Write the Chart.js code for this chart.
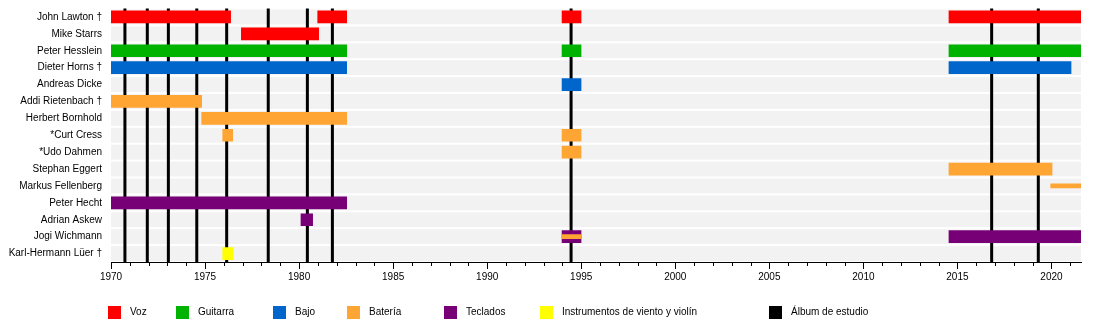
<!DOCTYPE html>
<html><head><meta charset="utf-8">
<script src="https://cdn.jsdelivr.net/npm/chart.js@4.4.0/dist/chart.umd.min.js"></script>
<style>
html,body{margin:0;padding:0;background:#fff;}
#wrap{position:relative;width:1100px;height:322px;overflow:hidden;}
#c{position:absolute;left:0;top:0;}
.sq{position:absolute;top:306px;width:13px;height:13px;}
.lb{position:absolute;top:306px;height:13px;line-height:13px;font:10px "Liberation Sans",Arial,sans-serif;color:#000;white-space:nowrap;}
</style>
</head><body>
<div id="wrap"><canvas id="c" width="1100" height="322"></canvas><div id="legend"></div></div>
<script>
const END = 2021.57;
const members = ['John Lawton †','Mike Starrs','Peter Hesslein','Dieter Horns †','Andreas Dicke','Addi Rietenbach †','Herbert Bornhold','*Curt Cress','*Udo Dahmen','Stephan Eggert','Markus Fellenberg','Peter Hecht','Adrian Askew','Jogi Wichmann','Karl-Hermann Lüer †'];
const voz = [['John Lawton †',1970,1976.36],['John Lawton †',1980.99,1982.53],['John Lawton †',1993.98,1994.99],['John Lawton †',2014.55,END],['Mike Starrs',1976.93,1981.04]];
const guitarra = [['Peter Hesslein',1970,1982.53],['Peter Hesslein',1993.98,1994.99],['Peter Hesslein',2014.55,END]];
const bajo = [['Dieter Horns †',1970,1982.53],['Dieter Horns †',2014.55,2021.04],['Andreas Dicke',1993.98,1994.99]];
const bateria = [['Addi Rietenbach †',1970,1974.82],['Herbert Bornhold',1974.82,1982.53],['*Curt Cress',1975.94,1976.47],['*Curt Cress',1993.98,1994.99],['*Udo Dahmen',1993.98,1994.99],['Stephan Eggert',2014.55,2020.03]];
const bateriaSecundaria = [['Markus Fellenberg',2019.96,END],['Jogi Wichmann',1993.98,1994.99]];
const teclados = [['Peter Hecht',1970,1982.53],['Adrian Askew',1980.1,1980.72],['Jogi Wichmann',1993.98,1994.99],['Jogi Wichmann',2014.55,END]];
const viento = [['Karl-Hermann Lüer †',1975.94,1976.5]];
const albums = [1970.74,1971.93,1973.05,1974.56,1976.15,1978.36,1980.44,1981.77,1994.46,2016.82,2019.3];
const legendLabels = ['Voz','Guitarra','Bajo','Batería','Teclados','Instrumentos de viento y violín','Álbum de estudio'];
const legendColors = ['#ff0000','#00b300','#0066cc','#ffa533','#770077','#ffff00','#000000'];
const legendX = [108,176,273,347,444,540,769];

const toPts = segs => segs.map(s => ({y: s[0], x: [s[1], s[2]]}));
function ds(label, segs, color, thick, order){
  return {label, data: toPts(segs), backgroundColor: color, borderWidth: 0, barThickness: thick, grouped: false, order};
}

const bgPlugin = {
  id: 'bands',
  beforeDatasetsDraw(chart){
    const {ctx, chartArea: a, scales: {x, y}} = chart;
    const h = y.getPixelForValue(1) - y.getPixelForValue(0);
    ctx.save();
    ctx.fillStyle = '#f2f2f2';
    members.forEach((m, i) => {
      const cy = y.getPixelForValue(i);
      ctx.fillRect(a.left, cy - h/2 + 1, a.right - a.left, h - 2);
    });
    ctx.fillStyle = '#000';
    albums.forEach(v => {
      const px = x.getPixelForValue(v);
      ctx.fillRect(px - 1.5, a.top, 3, a.bottom - a.top);
    });
    ctx.restore();
  },
  afterDraw(chart){
    const {ctx, chartArea: a, scales: {x}} = chart;
    ctx.save();
    ctx.strokeStyle = '#000';
    ctx.lineWidth = 1;
    for (let yr = 1971; yr <= 2021; yr++) {
      if (yr % 5 === 0) continue;
      const px = Math.round(x.getPixelForValue(yr)) + 0.5;
      ctx.beginPath();
      ctx.moveTo(px, a.bottom);
      ctx.lineTo(px, a.bottom + 4);
      ctx.stroke();
    }
    ctx.restore();
  }
};

Chart.defaults.font.family = '"Liberation Sans", Arial, sans-serif';
Chart.defaults.color = '#000';

new Chart(document.getElementById('c'), {
  type: 'bar',
  data: {
    labels: members,
    datasets: [
      ds('Batería secundaria', bateriaSecundaria, '#ffa533', 4, 0),
      ds('Voz', voz, '#ff0000', 12, 1),
      ds('Guitarra', guitarra, '#00b300', 12, 1),
      ds('Bajo', bajo, '#0066cc', 12, 1),
      ds('Batería', bateria, '#ffa533', 12, 1),
      ds('Teclados', teclados, '#770077', 12, 1),
      ds('Instrumentos de viento y violín', viento, '#ffff00', 12, 1)
    ]
  },
  options: {
    indexAxis: 'y',
    responsive: false,
    animation: false,
    events: [],
    layout: {padding: {top: 8.5, right: 19, left: 0, bottom: 0}},
    plugins: {legend: {display: false}, tooltip: {enabled: false}},
    scales: {
      x: {
        type: 'linear', min: 1970, max: END,
        afterFit(s){ s.height = 60; s.paddingLeft = 0; s.paddingRight = 0; },
        border: {display: true, color: '#000', width: 1},
        grid: {drawOnChartArea: false, drawTicks: true, tickLength: 7, tickColor: '#000'},
        ticks: {stepSize: 5, includeBounds: false, padding: 2, font: {size: 10}, maxRotation: 0, callback: v => String(v)}
      },
      y: {
        type: 'category',
        afterFit(s){ s.width = 111; s.paddingTop = 0; s.paddingBottom = 0; },
        border: {display: false},
        grid: {display: false, drawTicks: false},
        ticks: {padding: 9, font: {size: 10}, autoSkip: false}
      }
    }
  },
  plugins: [bgPlugin]
});

const leg = document.getElementById('legend');
legendLabels.forEach((t, i) => {
  const sq = document.createElement('div');
  sq.className = 'sq'; sq.style.left = legendX[i] + 'px'; sq.style.background = legendColors[i];
  const lb = document.createElement('div');
  lb.className = 'lb'; lb.style.left = (legendX[i] + 22) + 'px'; lb.textContent = t;
  leg.appendChild(sq); leg.appendChild(lb);
});
</script>
</body></html>
